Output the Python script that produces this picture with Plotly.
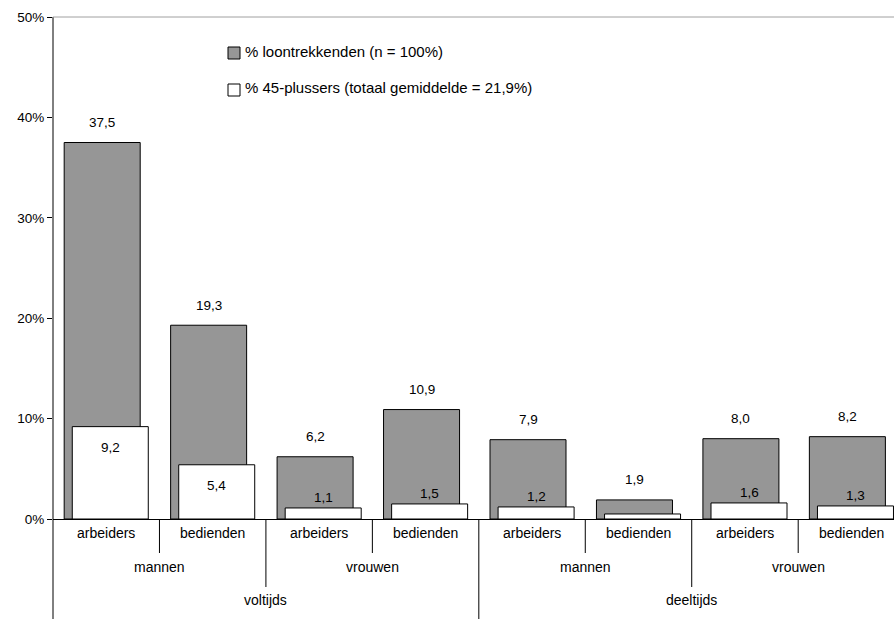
"""
Loontrekkenden en 45-plussers naar statuut, geslacht en arbeidsregime
"""
import plotly.graph_objects as go

# data
beroep = ["arbeiders", "bedienden"] * 4
geslacht = ["mannen", "vrouwen", "mannen", "vrouwen"]
regime = ["voltijds", "deeltijds"]
loontrekkenden = [37.5, 19.3, 6.2, 10.9, 7.9, 1.9, 8.0, 8.2]
plussers_45 = [9.2, 5.4, 1.1, 1.5, 1.2, 0.5, 1.6, 1.3]
plussers_labels = ["9,2", "5,4", "1,1", "1,5", "1,2", "", "1,6", "1,3"]
y_ticks = [0, 10, 20, 30, 40, 50]
legend_names = ["% loontrekkenden (n = 100%)", "% 45-plussers (totaal gemiddelde = 21,9%)"]

W, H = 894, 619
ML, MR, MT, MB = 53, 0, 17, 100
PW, PH = W - ML - MR, H - MT - MB
FONT = dict(family="Liberation Sans, Arial, sans-serif", size=13.5, color="black")
CAT_FONT = dict(FONT, size=14)
LEGEND_FONT = dict(FONT, size=15)
GRAY = "#969696"

def fmt(v):
    return f"{v:.1f}".replace(".", ",")

def px_x(p):
    return (p - ML) / PW

def px_y(p):
    return (H - MB - p) / PH


def main():
    xs = list(range(len(beroep)))
    fig = go.Figure()
    fig.add_trace(go.Bar(
        x=xs, y=loontrekkenden, width=0.714, offset=-0.395,
        marker=dict(color=GRAY, line=dict(color="black", width=1)),
        name=legend_names[0], showlegend=False,
    ))
    fig.add_trace(go.Bar(
        x=xs, y=plussers_45, width=0.714, offset=-0.319,
        marker=dict(color="white", line=dict(color="black", width=1)),
        name=legend_names[1], showlegend=False,
    ))

    ann = []
    shapes = []
    # value labels
    for i, v in enumerate(loontrekkenden):
        ann.append(dict(x=i - 0.038, y=v, text=fmt(v), showarrow=False, yshift=20,
                        xref="x", yref="y", font=FONT))
    for i, v in enumerate(plussers_45):
        if not plussers_labels[i]:
            continue
        shift = -21 if v > 3 else 10
        ann.append(dict(x=i + 0.038, y=v, text=plussers_labels[i], showarrow=False,
                        yshift=shift, xref="x", yref="y", font=FONT))

    # multi-level category axis
    bottom = -MB / PH
    for i, lab in enumerate(beroep):
        ann.append(dict(x=i, y=0, xref="x", yref="paper", text=lab, showarrow=False,
                        yshift=-24, font=CAT_FONT))
    for j, lab in enumerate(geslacht):
        ann.append(dict(x=2 * j + 0.5, y=0, xref="x", yref="paper", text=lab,
                        showarrow=False, yshift=-58, font=CAT_FONT))
    for k, lab in enumerate(regime):
        ann.append(dict(x=4 * k + 1.5, y=0, xref="x", yref="paper", text=lab,
                        showarrow=False, yshift=-91, font=CAT_FONT))
    for i in range(len(beroep) - 1):
        d = i + 0.5
        if i == 3:
            y1 = bottom
        elif i % 2 == 1:
            y1 = -68 / PH
        else:
            y1 = -34 / PH
        shapes.append(dict(type="line", xref="x", yref="paper", x0=d, x1=d, y0=0, y1=y1,
                           line=dict(color="black", width=1)))
    # y axis line extended down
    shapes.append(dict(type="line", xref="paper", yref="paper", x0=0, x1=0, y0=1, y1=bottom,
                       line=dict(color="black", width=1)))
    # top border line
    shapes.append(dict(type="line", xref="paper", yref="paper", x0=0, x1=1, y0=1, y1=1,
                       line=dict(color="#a0a0a0", width=1)))

    # legend
    for n, (name, col) in enumerate(zip(legend_names, [GRAY, "white"])):
        cy = 53 + 37 * n
        shapes.append(dict(type="rect", xref="paper", yref="paper",
                           x0=px_x(228), x1=px_x(240), y0=px_y(cy + 6), y1=px_y(cy - 6),
                           fillcolor=col, line=dict(color="black", width=1)))
        ann.append(dict(x=px_x(243), y=px_y(cy - 2), xref="paper", yref="paper", text=name,
                        showarrow=False, xanchor="left", yanchor="middle", font=LEGEND_FONT))

    fig.update_layout(
        width=W, height=H,
        margin=dict(l=ML, r=MR, t=MT, b=MB),
        plot_bgcolor="white", paper_bgcolor="white",
        barmode="overlay", font=FONT,
        annotations=ann, shapes=shapes,
        xaxis=dict(range=[-0.5, 7.4], showticklabels=False, ticks="", showgrid=False,
                   showline=True, linecolor="black", linewidth=1, zeroline=False,
                   fixedrange=True),
        yaxis=dict(range=[0, 50], tickvals=y_ticks, ticktext=[f"{t}%" for t in y_ticks],
                   ticks="outside", ticklen=5, tickcolor="black", showgrid=False,
                   showline=False, zeroline=False, fixedrange=True),
    )
    # drop the default body margin so the figure sits at the page corner
    fig.write_html("out.html", config={"displayModeBar": False},
                   post_script="document.body.style.margin='0';")


if __name__ == "__main__":
    main()
